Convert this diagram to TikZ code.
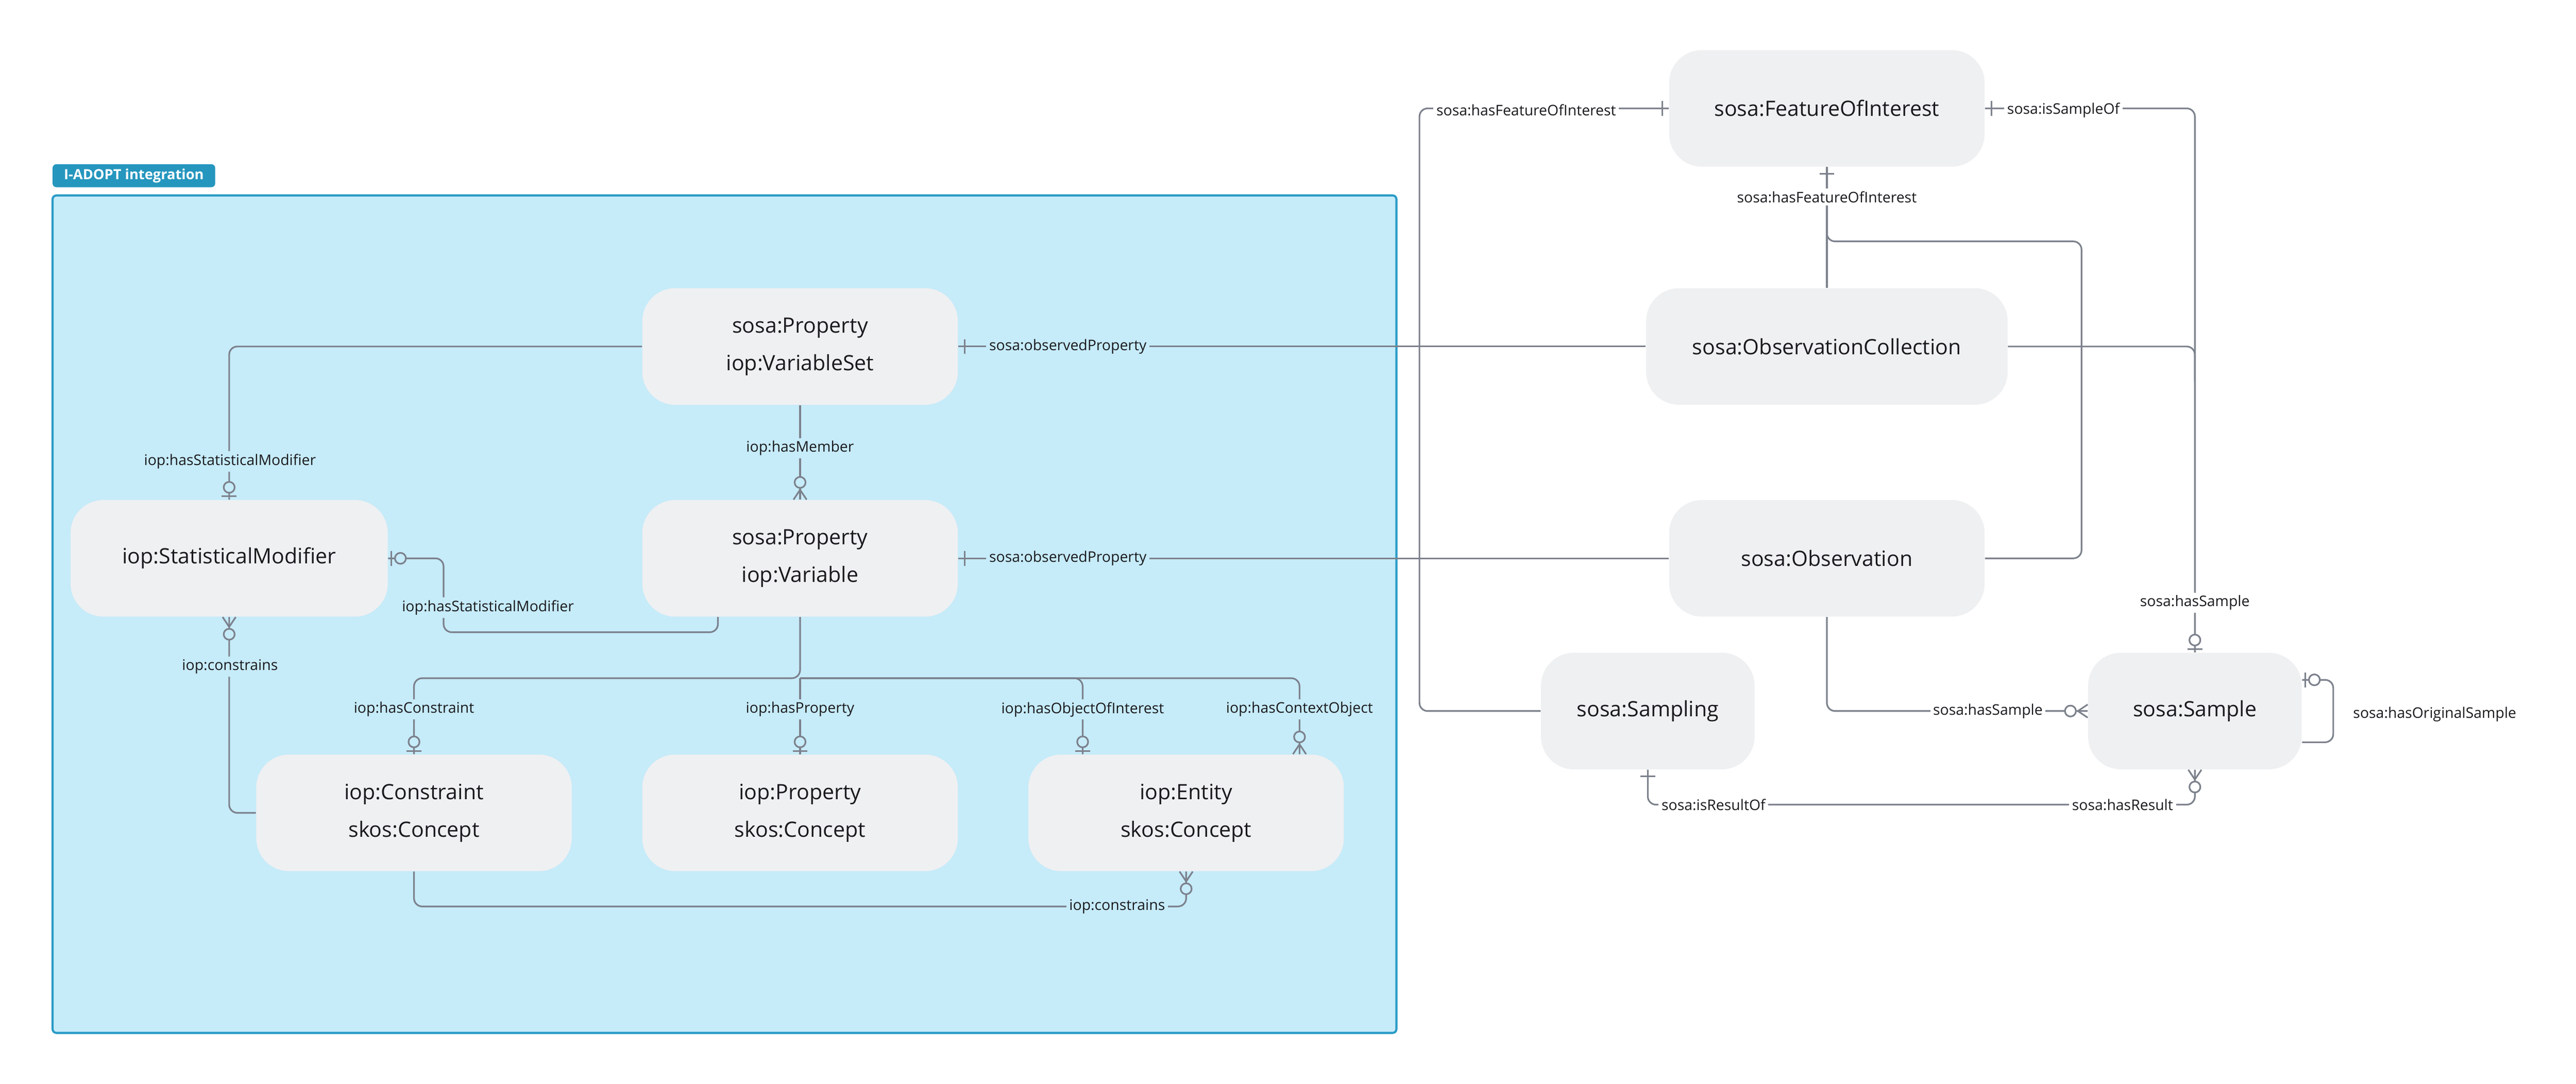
\documentclass[tikz,border=0pt]{standalone}
\usepackage{fontspec}
\setmainfont{Open Sans}
\definecolor{boxfill}{HTML}{C6EBF9}
\definecolor{boxline}{HTML}{2A9BC6}
\definecolor{nodefill}{HTML}{EFF0F2}
\definecolor{lc}{HTML}{7C818C}
\definecolor{tabc}{HTML}{2596BE}
\definecolor{txt}{HTML}{1A1A1E}
\tikzset{
  ent/.style={rounded corners=0.6cm, fill=nodefill, minimum height=2.13cm, align=center, text=txt, font=\fontsize{11}{19.5}\selectfont},
  w192/.style={minimum width=5.76cm},
  lbl/.style={font=\fontsize{7.6}{9}\selectfont, inner sep=1.5pt, text=txt},
  inb/.style={fill=boxfill},
  outb/.style={fill=white},
  rel/.style={draw=lc, line width=0.85pt, rounded corners=0.15cm},
  mk/.style={draw=lc, line width=0.85pt},
  one/.pic={\draw[mk] (4,-4.5)--(4,4.5);},
  zo/.pic={\draw[mk] (2,-4.5)--(2,4.5); \draw[mk,fill=#1] (7.5,0) circle[radius=0.1cm];},
  zm/.pic={\draw[mk] (0,-4)--(6,0)--(0,4); \draw[mk,fill=#1] (10.5,0) circle[radius=0.1cm];},
}
\begin{document}
\begin{tikzpicture}[x=0.03cm,y=-0.03cm]
\useasboundingbox (0,0) rectangle (1568,660);
% group box
\draw[fill=boxfill, draw=boxline, line width=1.1pt, rounded corners=2pt] (32,119) rectangle (850,629);
\node[fill=tabc, text=white, rounded corners=2pt, font=\fontsize{7.3}{9}\selectfont\bfseries, minimum width=2.97cm, minimum height=0.42cm, inner sep=0pt] (tab) at (81.5,107) {I-ADOPT integration};
% entities
\node[ent,w192] (VS) at (487,211) {sosa:Property\\iop:VariableSet};
\node[ent,w192] (V) at (487,340) {sosa:Property\\iop:Variable};
\node[ent,minimum width=5.79cm] (SM) at (139.5,340) {iop:StatisticalModifier};
\node[ent,w192] (C) at (252,495) {iop:Constraint\\skos:Concept};
\node[ent,w192] (Pr) at (487,495) {iop:Property\\skos:Concept};
\node[ent,w192] (E) at (722,495) {iop:Entity\\skos:Concept};
\node[ent,w192] (FOI) at (1112,66) {sosa:FeatureOfInterest};
\node[ent,minimum width=6.6cm] (OC) at (1112,211) {sosa:ObservationCollection};
\node[ent,w192] (O) at (1112,340) {sosa:Observation};
\node[ent,minimum width=3.9cm] (Sa) at (1003,433) {sosa:Sampling};
\node[ent,minimum width=3.9cm] (S) at (1336,433) {sosa:Sample};
% coordinates
\coordinate (br) at (487,413);
\coordinate (c1) at (270,385);
\coordinate (cc) at (480,552);
\coordinate (fb0) at (1112,130);
\coordinate (fb1) at (1267,147);
\coordinate (cl) at (864,200);
\coordinate (cr) at (1336,232);
\coordinate (cb) at (1100,490);
\coordinate (sl) at ([yshift=0.57cm]S.east);
% connectors
\draw[rel] (VS.west) -| (SM.north);
\draw[rel] (VS.south) -- (V.north);
\draw[rel] (SM.east) -| (c1) -| ([xshift=-1.5cm]V.south);
\draw[rel] (SM.south) |- (C.west);
\draw[rel] (V.south) -- (br) -| (C.north);
\draw[rel] (br) -- (Pr.north);
\draw[rel] (br) -| ([xshift=-1.89cm]E.north);
\draw[rel] (br) -| ([xshift=2.07cm]E.north);
\draw[rel] (C.south) |- (cc) -| (E.south);
\draw[rel] (VS.east) -- (OC.west);
\draw[rel] (V.east) -- (O.west);
\draw[rel] (FOI.south) -- (OC.north);
\draw[rel] (fb0) |- (fb1) |- (O.east);
\draw[rel] (FOI.west) -| (cl) |- (Sa.west);
\draw[rel] (FOI.east) -| (S.north);
\draw[rel] (OC.east) -| (cr);
\draw[rel] (O.south) |- (S.west);
\draw[rel] (sl) -- ++(19,0) -- ++(0,38) -- ++(-19,0);
\draw[rel] (Sa.south) |- (cb) -| (S.south);
% labels
\node[lbl,inb] (l1) at (140,281) {iop:hasStatisticalModifier};
\node[lbl,inb] (l2) at (487,273) {iop:hasMember};
\node[lbl,inb] (l3) at (297,370) {iop:hasStatisticalModifier};
\node[lbl,inb] (l4) at (140,406) {iop:constrains};
\node[lbl,inb] (l5) at (252,432) {iop:hasConstraint};
\node[lbl,inb] (l6) at (487,432) {iop:hasProperty};
\node[lbl,inb] (l7) at (659,432) {iop:hasObjectOfInterest};
\node[lbl,inb] (l8) at (791,432) {iop:hasContextObject};
\node[lbl,inb] (l9) at (680,552) {iop:constrains};
\node[lbl,inb] (l10) at (650,211) {sosa:observedProperty};
\node[lbl,inb] (l11) at (650,340) {sosa:observedProperty};
\node[lbl,outb] (l12) at (1112,120) {sosa:hasFeatureOfInterest};
\node[lbl,outb] (l13) at (929,67) {sosa:hasFeatureOfInterest};
\node[lbl,outb] (l14) at (1256,67) {sosa:isSampleOf};
\node[lbl,outb] (l15) at (1336,367) {sosa:hasSample};
\node[lbl,outb] (l16) at (1210,433) {sosa:hasSample};
\node[lbl,outb] (l17) at (1482,435) {sosa:hasOriginalSample};
\node[lbl,outb] (l18) at (1043,490) {sosa:isResultOf};
\node[lbl,outb] (l19) at (1292,490) {sosa:hasResult};
% end markers
\pic[rotate=90] at (SM.north) {zo=boxfill};
\pic[rotate=90] at (V.north) {zm=boxfill};
\pic at (SM.east) {zo=boxfill};
\pic[rotate=-90] at (SM.south) {zm=boxfill};
\pic[rotate=90] at (C.north) {zo=boxfill};
\pic[rotate=90] at (Pr.north) {zo=boxfill};
\pic[rotate=90] at ([xshift=-1.89cm]E.north) {zo=boxfill};
\pic[rotate=90] at ([xshift=2.07cm]E.north) {zm=boxfill};
\pic[rotate=-90] at (E.south) {zm=boxfill};
\pic at (VS.east) {one};
\pic at (V.east) {one};
\pic[rotate=-90] at (FOI.south) {one};
\pic[rotate=180] at (FOI.west) {one};
\pic at (FOI.east) {one};
\pic[rotate=90] at (S.north) {zo=white};
\pic[rotate=180] at (S.west) {zm=white};
\pic at (sl) {zo=white};
\pic[rotate=-90] at (Sa.south) {one};
\pic[rotate=-90] at (S.south) {zm=white};
\end{tikzpicture}
\end{document}
